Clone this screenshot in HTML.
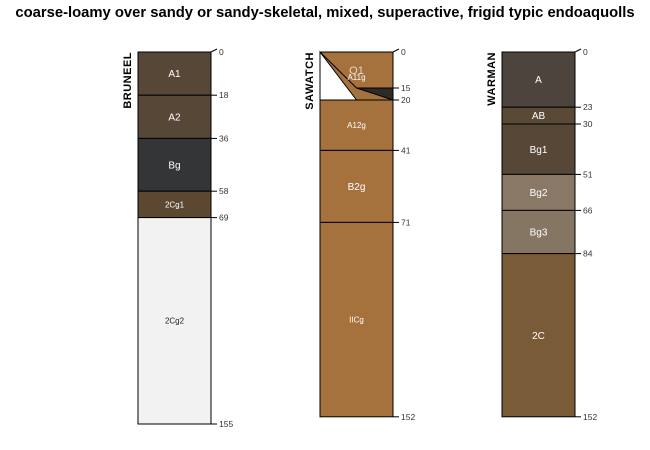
<!DOCTYPE html>
<html><head><meta charset="utf-8"><style>
html,body{margin:0;padding:0;background:#fff;}
svg{display:block;font-family:"Liberation Sans",sans-serif;}
</style></head><body>
<svg id="c" width="650" height="450">
<text x="325" y="17" text-anchor="middle" font-size="14.8" font-weight="bold" fill="#000">coarse-loamy over sandy or sandy-skeletal, mixed, superactive, frigid typic endoaquolls</text>
</svg>
<script>
const profileNames = ["BRUNEEL", "SAWATCH", "WARMAN"];
const bruneelTops = [0, 18, 36, 58, 69];
const bruneelBottoms = [18, 36, 58, 69, 155];
const bruneelNames = ["A1", "A2", "Bg", "2Cg1", "2Cg2"];
const bruneelColors = ["#574737", "#574737", "#343537", "#5c4830", "#f2f2f2"];
const sawatchTops = [20, 41, 71];
const sawatchBottoms = [41, 71, 152];
const sawatchNames = ["A12g", "B2g", "IICg"];
const sawatchColors = ["#a5713d", "#a5713d", "#a5713d"];
const sawatchOTop = [0, 15, 20];
const warmanTops = [0, 23, 30, 51, 66, 84];
const warmanBottoms = [23, 30, 51, 66, 84, 152];
const warmanNames = ["A", "AB", "Bg1", "Bg2", "Bg3", "2C"];
const warmanColors = ["#4d443d", "#594935", "#564737", "#8a7866", "#857563", "#7a5b37"];

const svg = document.getElementById('c');
const NS = "http://www.w3.org/2000/svg";
const top0 = 52, scale = 2.4, colW = 73;
const colX = [138, 320, 502];
const y = d => top0 + d * scale;
function mk(tag, attrs){const e=document.createElementNS(NS,tag);for(const k in attrs)e.setAttribute(k,attrs[k]);svg.appendChild(e);return e;}

function drawProfile(i, tops, bottoms, names, colors, extraTicks){
  const x = colX[i];
  for(let j=0;j<tops.length;j++){
    const r = mk('rect',{x:x,y:y(tops[j]),width:colW,height:y(bottoms[j])-y(tops[j]),fill:colors[j],stroke:'#000','stroke-width':1});
    
    
    const fs = names[j].length > 3 ? 8 : 10;
    const t = mk('text',{x:x+colW/2,y:(y(tops[j])+y(bottoms[j]))/2+fs/2.8,'text-anchor':'middle','font-size':fs,fill:colors[j]==="#f2f2f2"?'#222':'#fff'});
    t.textContent = names[j];
    
    
  }
  const ticks = [...new Set([...(extraTicks||[]), ...tops, ...bottoms])].sort((a,b)=>a-b);
  ticks.forEach(d=>{
    const yy = y(d);
    const ln = mk('line',{x1:x+colW,y1:yy,x2:x+colW+6,y2:d===0?yy-3:yy,stroke:'#000','stroke-width':1});
    
    
    const t = mk('text',{x:x+colW+8,y:yy+3,'font-size':8.5,fill:'#333'});
    t.textContent = d;
    
    
  });
  const n = mk('text',{transform:`translate(${x-7},${top0}) rotate(-90)`,'text-anchor':'end','font-size':11,'font-weight':'bold',fill:'#000','letter-spacing':'0.5'});
  n.textContent = profileNames[i];
  
  
}

drawProfile(0, bruneelTops, bruneelBottoms, bruneelNames, bruneelColors);
drawProfile(2, warmanTops, warmanBottoms, warmanNames, warmanColors);
(function(){
  const x = colX[1], mid = x + colW/2;
  const bg = mk('rect',{x:x,y:y(sawatchOTop[0]),width:colW,height:y(sawatchOTop[2])-y(sawatchOTop[0]),fill:'#a5713d',stroke:'#000'});
  
  
  const w = mk('polygon',{points:`${x},${y(0)} ${mid},${y(sawatchOTop[2])} ${x},${y(sawatchOTop[2])}`,fill:'#fff',stroke:'#000'});
  
  
  const dk = mk('polygon',{points:`${mid},${y(sawatchOTop[1])} ${x+colW},${y(sawatchOTop[1])} ${x+colW},${y(sawatchOTop[2])}`,fill:'#2e2a26',stroke:'#000'});
  
  
  const l = mk('polyline',{points:`${x},${y(0)} ${mid},${y(sawatchOTop[1])} ${x+colW},${y(sawatchOTop[1])}`,fill:'none',stroke:'#000'});
  
  
  const t1 = mk('text',{x:mid,y:y(0)+22,'text-anchor':'middle','font-size':11,fill:'#e8d8c8'});
  t1.textContent='O1';
  
  
  const t2 = mk('text',{x:mid,y:y(0)+28,'text-anchor':'middle','font-size':8,fill:'#fff'});
  t2.textContent='A11g';
  
  
})();
drawProfile(1, sawatchTops, sawatchBottoms, sawatchNames, sawatchColors, sawatchOTop);
</script>
</body></html>
